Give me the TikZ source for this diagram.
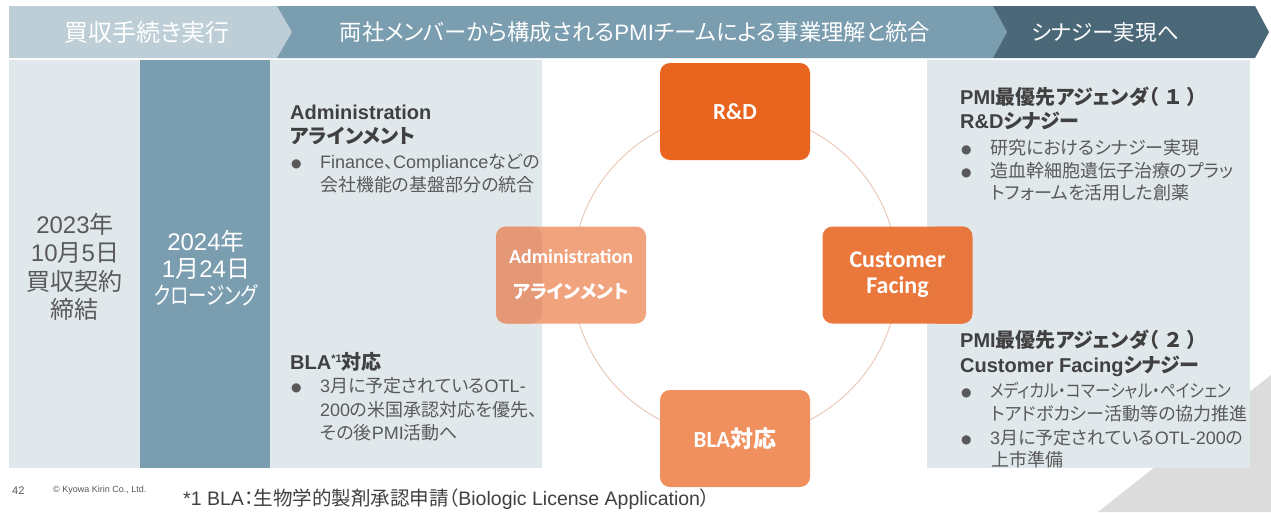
\documentclass[tikz,border=0pt]{standalone}
\usepackage{fontspec}
\setmainfont{Liberation Sans}
\newfontfamily\jpfont{Noto Sans CJK JP}[RawFeature=+palt]
\newfontfamily\calfont{Carlito}
\newfontfamily\dotfont{DejaVu Sans}

% Japanese runs are set in Noto Sans CJK JP, Latin runs in the current Latin family
\XeTeXinterchartokenstate=1
\newcount\jpc
\def\jprange#1#2{\jpc=#1\relax
  \loop\XeTeXcharclass\jpc=10\relax\ifnum\jpc<#2\relax\advance\jpc by 1\relax\repeat}
\jprange{"3000}{"30FF}
\jprange{"4E00}{"9FFF}
\jprange{"FF00}{"FFEF}
\XeTeXcharclass"25CF=0
\def\latfont{\rmfamily}
\XeTeXinterchartoks 0 10 = {\jpfont}
\XeTeXinterchartoks 4095 10 = {\jpfont}
\XeTeXinterchartoks 10 0 = {\latfont}
\XeTeXinterchartoks 4095 0 = {\latfont}

\definecolor{panel}{HTML}{E1E8EC}
\definecolor{hdlight}{HTML}{BDCED7}
\definecolor{hdmid}{HTML}{7A9DAF}
\definecolor{hddark}{HTML}{4B6879}
\definecolor{headtext}{HTML}{404040}
\definecolor{bodytext}{HTML}{595959}
\definecolor{rdorange}{HTML}{E8641F}
\definecolor{cforange}{HTML}{EA783C}
\definecolor{cforangeb}{HTML}{E7773D}
\definecolor{blaorange}{HTML}{F0905E}
\definecolor{admwhite}{HTML}{F1A37D}
\definecolor{admgrey}{HTML}{E49876}
\definecolor{ringcol}{HTML}{E8C6B4}
\definecolor{cornergrey}{HTML}{DCDCDC}

% bullet mark followed by the indent of the item text
\newcommand\bul{\makebox[30pt][l]{\hspace{1pt}\raisebox{0.5pt}{\def\latfont{\dotfont}\dotfont\fontsize{12}{12}\selectfont ●}}}

\begin{document}
\begin{tikzpicture}[x=1pt,y=-1pt,
  hdrtxt/.style={text=white, inner sep=0pt, font=\fontsize{24}{28}\selectfont},
  datetxt/.style={inner sep=0pt, align=center},
  box/.style={rounded corners=10pt, minimum width=150pt, minimum height=97pt,
    inner sep=0pt, text=white, align=center},
  boxfont/.style={font=\def\latfont{\calfont}\calfont\bfseries\fontsize{23}{27}\selectfont},
  hd/.style={anchor=base west, inner sep=0pt, text=headtext,
    font=\bfseries\fontsize{20}{24}\selectfont},
  bl/.style={anchor=base west, inner sep=0pt, text=bodytext,
    font=\fontsize{18}{22}\selectfont},
  ring/.style={draw=ringcol, line width=0.9pt}]
\useasboundingbox (0,0) rectangle (1271,512);
\fill[white] (0,0) rectangle (1271,512);

% grey corner at the bottom right
\fill[cornergrey] (1098,512) -- (1271,375) -- (1271,512) -- cycle;

% phase arrows along the top
\fill[hdlight] (9,6) -- (277,6) -- (292,32) -- (277,58) -- (9,58) -- cycle;
\fill[hdmid] (277,6) -- (993,6) -- (1007,32) -- (993,58) -- (277,58) -- (292,32) -- cycle;
\fill[hddark] (993,6) -- (1255,6) -- (1269,32) -- (1255,58) -- (993,58) -- (1007,32) -- cycle;
\node[hdrtxt] (h1) at (147,32) {買収手続き実行};
\node[hdrtxt, font=\fontsize{22.3}{26}\selectfont] (h2) at (635,32)
  {両社メンバーから構成されるPMIチームによる事業理解と統合};
\node[hdrtxt, font=\fontsize{21.5}{26}\selectfont] (h3) at (1105,32) {シナジー実現へ};

% body columns
\fill[panel] (9,60) rectangle (140,468);
\fill[hdmid] (140,60) rectangle (270,468);
\fill[panel] (270,60) rectangle (542,468);
\fill[panel] (927,60) rectangle (1250,468);

\node[datetxt, text=bodytext, font=\fontsize{24}{28.5}\selectfont] (d1) at (75,267)
  {2023年\\10月5日\\買収契約\\締結};
\node[datetxt, text=white, font=\fontsize{24}{27}\selectfont] (d2) at (206,268)
  {2024年\\1月24日\\\scalebox{0.77}[1]{クロージング}};

% ring of the four work streams
\coordinate (ctr) at (735,275);
\draw[ring] (ctr) circle[radius=163];

\node[box, boxfont, fill=rdorange] (rd) at (735,111.5) {R\&D};
\node[box, fill=admwhite,
  font=\def\latfont{\calfont}\calfont\bfseries\fontsize{20}{29}\selectfont,
  path picture={\fill[admgrey] (path picture bounding box.south west)
    rectangle ([xshift=-104pt]path picture bounding box.north east);}] (adm) at (571,275)
  {Administration\\[6pt]{\fontsize{18.5}{29}\selectfont アラインメント}};
\node[box, fill=cforange,
  font=\def\latfont{\calfont}\calfont\bfseries\fontsize{24}{26}\selectfont,
  path picture={\fill[cforangeb] ([xshift=104.5pt]path picture bounding box.south west)
    rectangle (path picture bounding box.north east);}] (cf) at (897.5,275)
  {Customer\\Facing};
\node[box, boxfont, fill=blaorange] (bla) at (735,438.5) {BLA対応};

% left text panel
\node[hd] (a1) at (290,119) {Administration};
\node[hd] (a2) at (290,143) {アラインメント};
\node[bl] (a3) at (290,168) {\bul Finance、Complianceなどの};
\node[bl] (a4) at (320,191) {会社機能の基盤部分の統合};
\node[hd] (b1) at (290,369) {BLA\raisebox{7pt}{\fontsize{11}{11}\selectfont *1}対応};
\node[bl] (b2) at (290,392) {\bul 3月に予定されているOTL-};
\node[bl] (b3) at (320,416) {200の米国承認対応を優先、};
\node[bl] (b4) at (320,439) {その後PMI活動へ};

% right text panel
\node[hd] (r1) at (960,104) {PMI最優先アジェンダ（\hspace{7pt}１\hspace{7pt}）};
\node[hd] (r2) at (960,128) {R\&Dシナジー};
\node[bl] (r3) at (960,154) {\bul 研究におけるシナジー実現};
\node[bl] (r4) at (960,177) {\bul 造血幹細胞遺伝子治療のプラッ};
\node[bl] (r5) at (991,199) {トフォームを活用した創薬};
\node[hd] (r6) at (960,347) {PMI最優先アジェンダ（\hspace{7pt}２\hspace{7pt}）};
\node[hd] (r7) at (960,372) {Customer Facingシナジー};
\node[bl] (r8) at (960,397) {\bul \scalebox{0.87}[1]{メディカル・コマーシャル・ペイシェン}};
\node[bl] (r9) at (991,420) {トアドボカシー活動等の協力推進};
\node[bl] (r10) at (960,444) {\bul 3月に予定されているOTL-200の};
\node[bl] (r11) at (991,466) {上市準備};

% footer
\node[anchor=base west, inner sep=0pt, text=bodytext, font=\fontsize{11}{13}\selectfont]
  (pg) at (12,494) {42};
\node[anchor=base west, inner sep=0pt, text=bodytext, font=\fontsize{9}{11}\selectfont]
  (copy) at (53,492) {© Kyowa Kirin Co., Ltd.};
\node[anchor=base west, inner sep=0pt, text=headtext, font=\fontsize{19.5}{22}\selectfont]
  (fn) at (183,505) {*1 BLA：生物学的製剤承認申請（Biologic License Application）};
\end{tikzpicture}
\end{document}
